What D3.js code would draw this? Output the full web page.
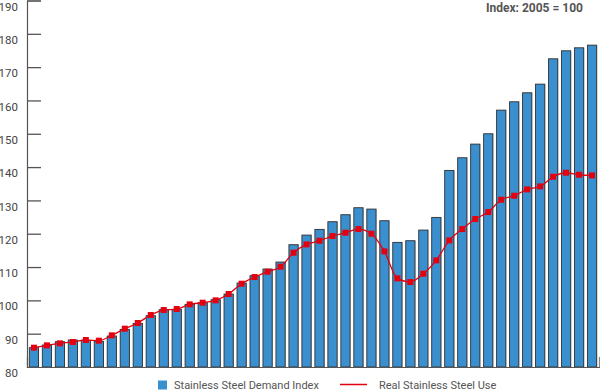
<!DOCTYPE html>
<html>
<head>
<meta charset="utf-8">
<script src="https://cdn.jsdelivr.net/npm/d3@7"></script>
<style>
  html, body { margin: 0; padding: 0; background: #fff; }
  svg { display: block; }
  text { font-family: Roboto, "DejaVu Sans", sans-serif; }
</style>
</head>
<body>
<svg id="chart" width="600" height="391"></svg>
<script>
// ---- data ----
const categories = d3.range(1, 45).map(i => "P" + i);
const demandIndex = [85.8, 86.6, 87.6, 88.1, 88.0, 87.7, 89.3, 91.3, 93.1, 95.4, 97.2, 97.3,
  98.8, 99.3, 100.2, 101.9, 105.2, 107.4, 109.4, 111.5, 116.7, 119.6, 121.3, 123.6,
  125.7, 127.8, 127.4, 123.9, 117.4, 117.9, 121.1, 124.9, 139.0, 142.8, 146.9, 150.0,
  157.1, 159.6, 162.3, 164.9, 172.5, 174.9, 175.8, 176.6];
const realUse = [85.8, 86.5, 87.1, 87.5, 88.1, 87.9, 89.5, 91.5, 93.2, 95.6, 97.1, 97.4,
  98.8, 99.3, 100.0, 101.9, 105.0, 107.0, 108.6, 110.1, 114.3, 116.8, 117.9, 119.3,
  120.3, 121.4, 120.0, 114.7, 106.6, 105.5, 108.0, 112.0, 118.0, 121.4, 124.4, 126.5,
  130.2, 131.4, 133.3, 134.2, 137.1, 138.3, 137.7, 137.5];
const yTicks = [80, 90, 100, 110, 120, 130, 140, 150, 160, 170, 180, 190];
const seriesNames = ["Stainless Steel Demand Index", "Real Stainless Steel Use"];
const noteText = "Index: 2005 = 100";

// ---- layout ----
const svg = d3.select("#chart");
const x = d3.scaleBand().domain(categories).range([27, 599]).paddingInner(0.29).paddingOuter(0.18);
const y = d3.scaleLinear().domain([80, 190]).range([367, 0.5]);

const blue = "#3a8fcf";
const red = "#e3000f";
const axisCol = "#555";

// bars
svg.append("g").selectAll("rect").data(categories).join("rect")
  .attr("x", d => x(d) + 0.5)
  .attr("y", (d, i) => y(demandIndex[i]))
  .attr("width", x.bandwidth())
  .attr("height", (d, i) => y(80) - y(demandIndex[i]))
  .attr("fill", "#9a9a9a");
svg.append("g").selectAll("rect").data(categories).join("rect")
  .attr("x", d => x(d))
  .attr("y", (d, i) => y(demandIndex[i]))
  .attr("width", x.bandwidth())
  .attr("height", (d, i) => y(80) - y(demandIndex[i]))
  .attr("fill", blue)
  .attr("stroke", "#333")
  .attr("stroke-width", 0.9);

// y axis
const yAxis = d3.axisLeft(y).tickValues(yTicks).tickSize(-14).tickPadding(0).tickFormat(d3.format("d"));
const gy = svg.append("g").attr("transform", "translate(27,0)").call(yAxis);
gy.select(".domain").attr("stroke", axisCol).attr("stroke-width", 1.2);
gy.selectAll(".tick line").attr("stroke", axisCol).attr("stroke-width", 1.3);
gy.selectAll(".tick").filter(d => d === 80).select("line").remove();
gy.selectAll(".tick text")
  .attr("x", -9).attr("dy", null).attr("y", 9.6)
  .attr("fill", "#444").attr("font-size", 11.5).attr("font-family", "Roboto, sans-serif");

// x axis baseline
const gx = svg.append("g").attr("transform", "translate(0,367)")
  .call(d3.axisBottom(d3.scaleLinear().domain([0, 1]).range([27, 599])).tickValues([1]).tickSize(-10).tickFormat(""));
gx.select(".domain").attr("stroke", axisCol).attr("stroke-width", 1.2);
gx.selectAll(".tick line").attr("stroke", "#888").attr("stroke-width", 1);

// line
const cx = d => x(d) + x.bandwidth() / 2;
const line = d3.line().x((d, i) => cx(categories[i])).y(d => y(d)).curve(d3.curveMonotoneX);
svg.append("path").datum(realUse).attr("d", line)
  .attr("fill", "none").attr("stroke", red).attr("stroke-width", 1.3);
svg.append("g").selectAll("rect").data(realUse).join("rect")
  .attr("x", (d, i) => cx(categories[i]) - 3)
  .attr("y", d => y(d) - 3)
  .attr("width", 6).attr("height", 6)
  .attr("fill", red);

// note
svg.append("text").attr("x", 583).attr("y", 11.5).attr("text-anchor", "end")
  .attr("font-size", 12).attr("font-weight", "bold").attr("fill", "#555").text(noteText);

// legend
const lg = svg.append("g");
lg.append("rect").attr("x", 158).attr("y", 380.5).attr("width", 9).attr("height", 9).attr("fill", blue);
lg.append("text").attr("x", 174).attr("y", 389).attr("font-size", 11).attr("fill", "#555").text(seriesNames[0]);
lg.append("line").attr("x1", 340).attr("x2", 367).attr("y1", 384.5).attr("y2", 384.5)
  .attr("stroke", red).attr("stroke-width", 1.5);
lg.append("text").attr("x", 379).attr("y", 389).attr("font-size", 11).attr("fill", "#555").text(seriesNames[1]);
</script>
</body>
</html>
